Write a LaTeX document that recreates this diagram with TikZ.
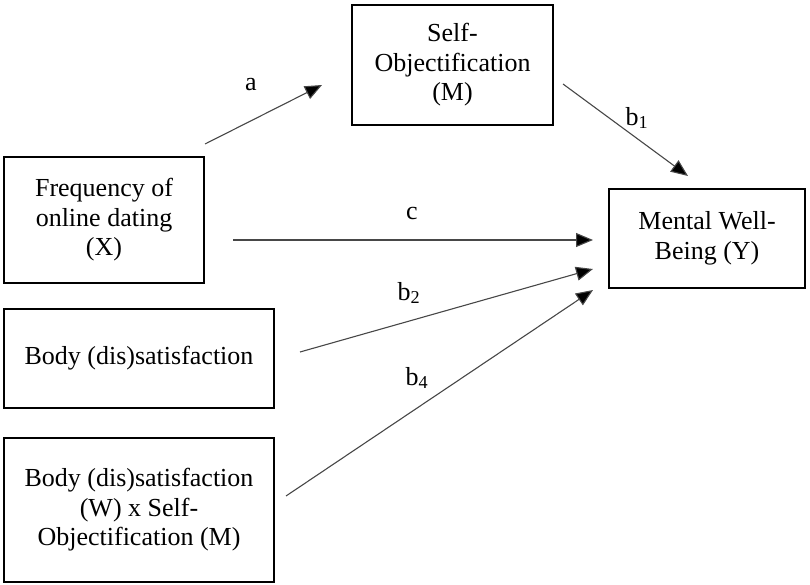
\documentclass[tikz,border=0pt]{standalone}
\usepackage{fontspec}
\setmainfont{Liberation Serif}
\usetikzlibrary{arrows.meta}
\tikzset{
  varbox/.style={draw=black, line width=1.6pt, inner sep=0pt, align=center,
    font=\fontsize{26}{29.5}\selectfont},
  path/.style={draw=black!72, line width=1.1pt,
    -{Triangle[length=17pt,width=14pt,fill=black]}},
  coef/.style={font=\fontsize{26}{29.5}\selectfont, inner sep=0pt}
}
\begin{document}
\begin{tikzpicture}[x=1pt,y=-1pt]
  \useasboundingbox (0,0) rectangle (810,585);

  % variables
  \node[varbox, minimum width=201pt, minimum height=120pt] (M) at (452.5,65)
    {Self-\\Objectification\\(M)};
  \node[varbox, minimum width=200pt, minimum height=126pt] (X) at (104,220)
    {Frequency of\\online dating\\(X)};
  \node[varbox, minimum width=196pt, minimum height=99pt] (Y) at (707,238.5)
    {Mental Well-\\Being (Y)};
  \node[varbox, minimum width=270pt, minimum height=99pt] (B) at (139,358.5)
    {Body (dis)satisfaction};
  \node[varbox, minimum width=270pt, minimum height=144pt] (W) at (139,510)
    {Body (dis)satisfaction\\(W) x Self-\\Objectification (M)};

  % path end points
  \coordinate (a0) at (205,144);  \coordinate (a1) at (322,85);
  \coordinate (b10) at (563,84);  \coordinate (b11) at (688,176);
  \coordinate (c0) at (233,240);  \coordinate (c1) at (593,240);
  \coordinate (b20) at (300,352); \coordinate (b21) at (593,269);
  \coordinate (b40) at (286,496); \coordinate (b41) at (593,290);

  \draw[path] (a0) -- (a1);
  \draw[path] (b10) -- (b11);
  \draw[path] (c0) -- (c1);
  \draw[path] (b20) -- (b21);
  \draw[path] (b40) -- (b41);

  % path coefficients
  \node[coef] (la) at (251,85) {a};
  \node[coef] (lb1) at (637,118) {b\textsubscript{1}};
  \node[coef] (lc) at (412,214) {c};
  \node[coef] (lb2) at (409,293) {b\textsubscript{2}};
  \node[coef] (lb4) at (417,378) {b\textsubscript{4}};
\end{tikzpicture}
\end{document}
